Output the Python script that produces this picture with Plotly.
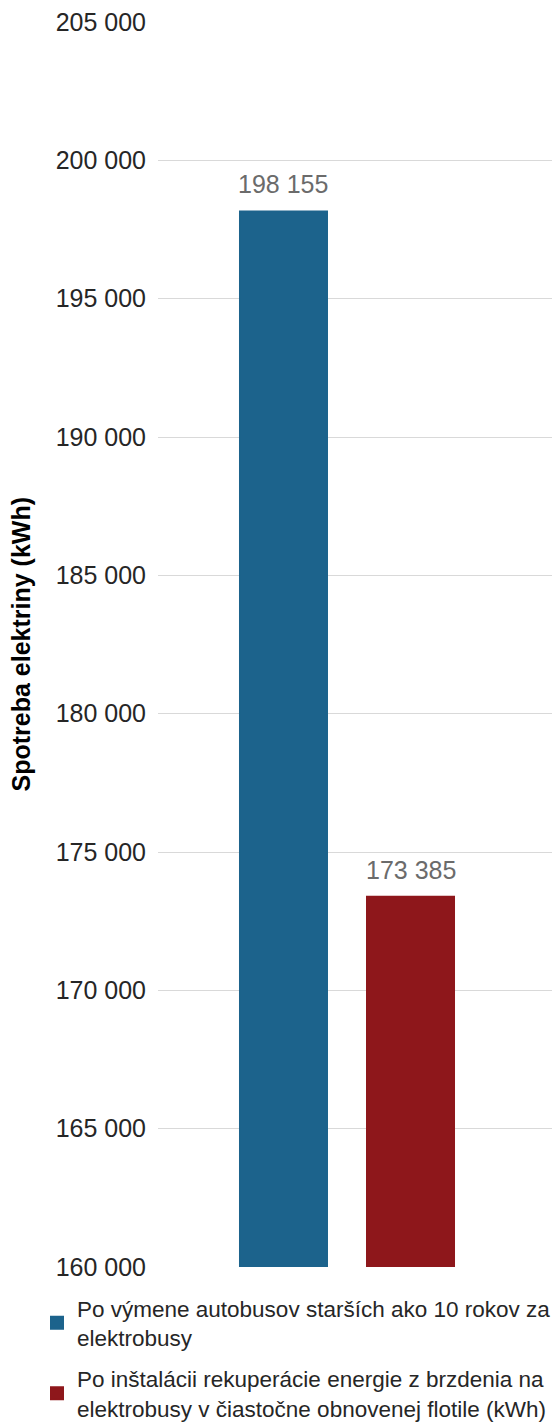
import plotly.graph_objects as go

categories = ["s0", "s1"]
series_names = [
    "Po výmene autobusov starších ako 10 rokov za<br>elektrobusy",
    "Po inštalácii rekuperácie energie z brzdenia na<br>elektrobusy v čiastočne obnovenej flotile (kWh)",
]
series_values = [198155, 173385]
colors = ["#1c638c", "#8e171b"]
y_ticks = list(range(160000, 205001, 5000))
y_title = "Spotreba elektriny (kWh)"

L, R, T, B = 158, 6, 22, 158
PW = 558 - L - R
PH = 1425 - T - B

fig = go.Figure()
for cat, name, val, col in zip(categories, series_names, series_values, colors):
    fig.add_trace(go.Bar(
        x=[cat], y=[val], name=name, marker_color=col, legendgroup=cat,
        marker_line=dict(color=col, width=2),
    ))

annotations = [dict(text="<b>" + y_title + "</b>", textangle=-90,
                    xref="paper", yref="paper", x=(20 - L) / PW, y=0.5,
                    xanchor="center", yanchor="middle", showarrow=False,
                    font=dict(size=25, color="#000000", family="Liberation Sans"))]
for cat, val in zip(categories, series_values):
    annotations.append(dict(text=f"{val:,}".replace(",", " "), x=cat, y=val,
                            xref="x", yref="y", yanchor="bottom", yshift=11,
                            showarrow=False,
                            font=dict(size=25, color="#6b6b6b", family="Liberation Sans")))

fig.update_layout(
    width=558, height=1425,
    margin=dict(l=L, r=R, t=T, b=B, autoexpand=False),
    plot_bgcolor="white", paper_bgcolor="white",
    separators=", ",
    barmode="overlay", bargap=0.315,
    font=dict(family="Liberation Sans", size=22.5, color="#262626"),
    showlegend=True,
    legend=dict(x=(37 - L) / PW, xanchor="left", y=-0.016, yanchor="top",
                font=dict(size=22.5, color="#262626", family="Liberation Sans"),
                tracegroupgap=9, traceorder="grouped", itemwidth=30),
    annotations=annotations,
)
fig.update_xaxes(type="category", range=[-0.988, 2.114], showticklabels=False,
                 showgrid=False, zeroline=False, showline=False, automargin=False)
fig.update_yaxes(range=[160000, 205000], tickvals=y_ticks, tickformat=",d",
                 showgrid=True, gridcolor="#d9d9d9", gridwidth=1,
                 zeroline=False, showline=False, ticklabelstandoff=11,
                 automargin=False,
                 tickfont=dict(size=25, color="#262626"))
fig.write_html("out.html", config={"displayModeBar": False},
               post_script="document.body.style.margin='0px';document.body.style.overflow='hidden';")
